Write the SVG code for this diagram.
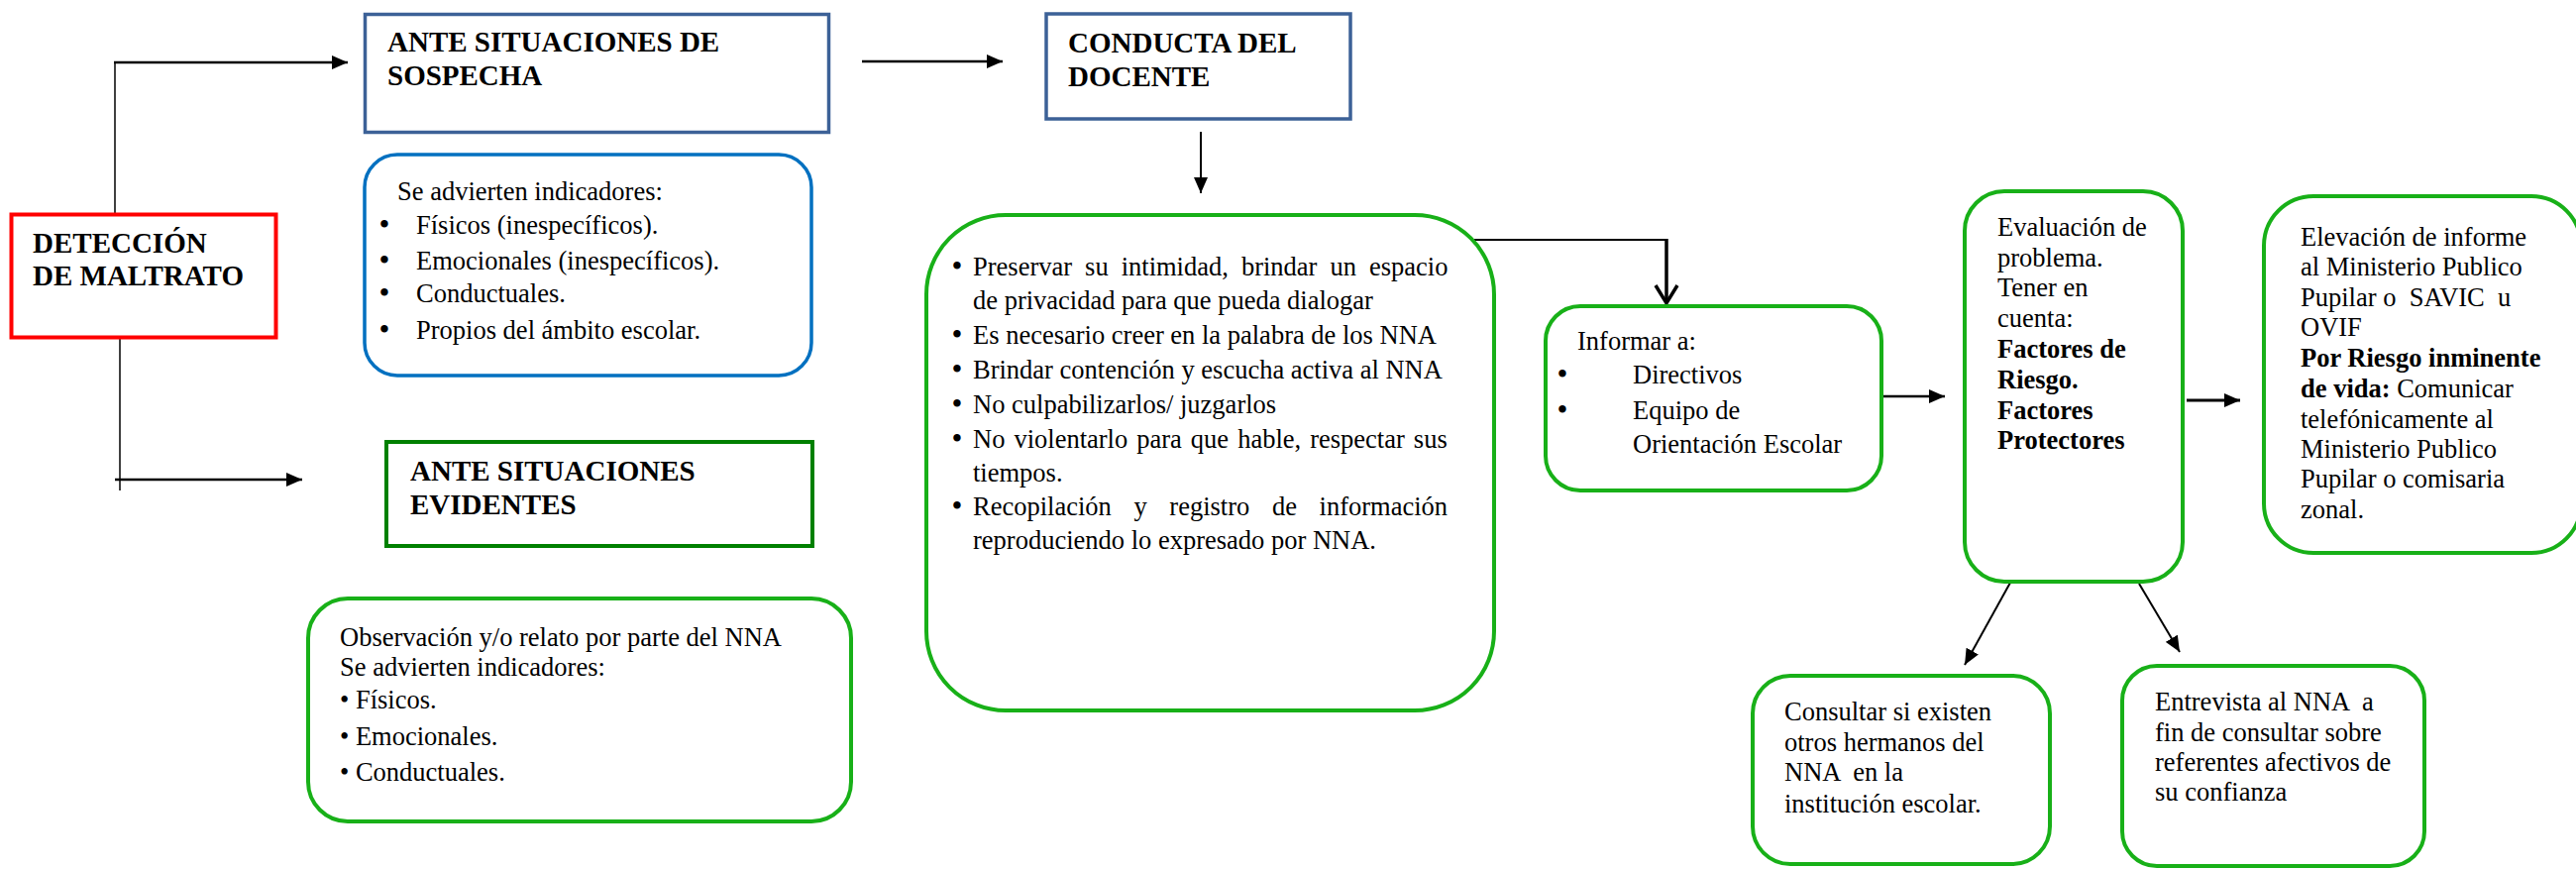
<svg xmlns="http://www.w3.org/2000/svg" width="2600" height="877" viewBox="0 0 2600 877">
<style>
text { font-family: "Liberation Serif", "Times New Roman", serif; font-size: 26.5px; fill: #000; }
.h { font-weight: bold; font-size: 29px; }
.bd { font-weight: bold; }
.bl { text-anchor: middle; font-size: 31px; }
.rb { fill: #fff; stroke: #18B018; stroke-width: 4; }
.blue { fill: #fff; stroke: #3C6197; stroke-width: 3.5; }
.ln { fill: none; stroke: #000; }
</style>
<defs>
<marker id="ah" markerUnits="userSpaceOnUse" markerWidth="16" markerHeight="14" refX="16" refY="7" orient="auto">
<path d="M0,0 L16,7 L0,14 Z" fill="#000"/>
</marker>
</defs>
<rect width="2600" height="877" fill="#fff"/>

<g id="connectors">
<line class="ln" x1="116" y1="216" x2="116" y2="63" stroke-width="1.5"/>
<line class="ln" x1="115" y1="63" x2="351" y2="63" stroke-width="2.5" marker-end="url(#ah)"/>
<line class="ln" x1="121" y1="342" x2="121" y2="495" stroke-width="1.5"/>
<line class="ln" x1="116" y1="484" x2="305" y2="484" stroke-width="2.5" marker-end="url(#ah)"/>
<line class="ln" x1="870" y1="62" x2="1012" y2="62" stroke-width="2.5" marker-end="url(#ah)"/>
<line class="ln" x1="1212" y1="133" x2="1212" y2="195" stroke-width="2" marker-end="url(#ah)"/>
<polyline class="ln" points="1488,242 1682,242" stroke-width="2"/>
<line class="ln" x1="1682" y1="241" x2="1682" y2="305" stroke-width="3.5"/>
<polyline class="ln" points="1671,288 1682,306 1693,288" stroke-width="3.5"/>
<line class="ln" x1="1898" y1="400" x2="1963" y2="400" stroke-width="2.5" marker-end="url(#ah)"/>
<line class="ln" x1="2207" y1="404" x2="2261" y2="404" stroke-width="3" marker-end="url(#ah)"/>
<line class="ln" x1="2029" y1="588" x2="1983" y2="671" stroke-width="2" marker-end="url(#ah)"/>
<line class="ln" x1="2159" y1="589" x2="2200" y2="658" stroke-width="2" marker-end="url(#ah)"/>
</g>

<g id="deteccion">
<rect x="11.5" y="216.5" width="267" height="124" fill="#fff" stroke="#FF0000" stroke-width="4"/>
<text class="h" x="33" y="255">DETECCIÓN</text>
<text class="h" x="33" y="288">DE MALTRATO</text>
</g>

<g id="sospecha">
<rect class="blue" x="368.5" y="14.5" width="468" height="119"/>
<text class="h" x="391" y="52">ANTE SITUACIONES DE</text>
<text class="h" x="391" y="86">SOSPECHA</text>
</g>

<g id="sospecha-indicadores">
<rect x="368" y="156" width="451" height="223" rx="33" fill="#fff" stroke="#0070C0" stroke-width="3.5"/>
<text x="401" y="202">Se advierten indicadores:</text>
<text class="bl" x="388" y="237">•</text><text x="420" y="236">Físicos (inespecíficos).</text>
<text class="bl" x="388" y="273">•</text><text x="420" y="272">Emocionales (inespecíficos).</text>
<text class="bl" x="388" y="306">•</text><text x="420" y="305">Conductuales.</text>
<text class="bl" x="388" y="343">•</text><text x="420" y="342">Propios del ámbito escolar.</text>
</g>

<g id="evidentes">
<rect x="390" y="446" width="430" height="105" fill="#fff" stroke="#008000" stroke-width="4"/>
<text class="h" x="414" y="485">ANTE SITUACIONES</text>
<text class="h" x="414" y="519">EVIDENTES</text>
</g>

<g id="evidentes-indicadores">
<rect class="rb" x="311" y="604" width="548" height="225" rx="40"/>
<text x="343" y="652">Observación y/o relato por parte del NNA</text>
<text x="343" y="682">Se advierten indicadores:</text>
<text x="343" y="715">• Físicos.</text>
<text x="343" y="752">• Emocionales.</text>
<text x="343" y="788">• Conductuales.</text>
</g>

<g id="conducta">
<rect class="blue" x="1056" y="14" width="307" height="106"/>
<text class="h" x="1078" y="53">CONDUCTA DEL</text>
<text class="h" x="1078" y="87">DOCENTE</text>
</g>

<g id="acciones">
<rect class="rb" x="935" y="217" width="573" height="500" rx="80"/>
<text class="bl" x="966" y="279">•</text>
<text x="982" y="278" word-spacing="6.4">Preservar su intimidad, brindar un espacio</text>
<text x="982" y="312">de privacidad para que pueda dialogar</text>
<text class="bl" x="966" y="348">•</text>
<text x="982" y="347">Es necesario creer en la palabra de los NNA</text>
<text class="bl" x="966" y="383">•</text>
<text x="982" y="382">Brindar contención y escucha activa al NNA</text>
<text class="bl" x="966" y="418">•</text>
<text x="982" y="417">No culpabilizarlos/ juzgarlos</text>
<text class="bl" x="966" y="453">•</text>
<text x="982" y="452" word-spacing="2.4">No violentarlo para que hable, respectar sus</text>
<text x="982" y="486">tiempos.</text>
<text class="bl" x="966" y="521">•</text>
<text x="982" y="520" word-spacing="16">Recopilación y registro de información</text>
<text x="982" y="554">reproduciendo lo expresado por NNA.</text>
</g>

<g id="informar">
<rect class="rb" x="1560" y="309" width="339" height="186" rx="35"/>
<text x="1592" y="353">Informar a:</text>
<text class="bl" x="1577" y="388">•</text><text x="1648" y="387">Directivos</text>
<text class="bl" x="1577" y="424">•</text><text x="1648" y="423">Equipo de</text>
<text x="1648" y="457">Orientación Escolar</text>
</g>

<g id="evaluacion">
<rect class="rb" x="1983" y="193" width="220" height="394" rx="40"/>
<text x="2016" y="238">Evaluación de</text>
<text x="2016" y="269">problema.</text>
<text x="2016" y="299">Tener en</text>
<text x="2016" y="330">cuenta:</text>
<text class="bd" x="2016" y="361">Factores de</text>
<text class="bd" x="2016" y="392">Riesgo.</text>
<text class="bd" x="2016" y="423">Factores</text>
<text class="bd" x="2016" y="453">Protectores</text>
</g>

<g id="elevacion">
<rect class="rb" x="2285" y="198" width="320" height="360" rx="50"/>
<text x="2322" y="248">Elevación de informe</text>
<text x="2322" y="278">al Ministerio Publico</text>
<text x="2322" y="309" xml:space="preserve">Pupilar o  SAVIC  u</text>
<text x="2322" y="339">OVIF</text>
<text class="bd" x="2322" y="370">Por Riesgo inminente</text>
<text x="2322" y="401"><tspan class="bd">de vida:</tspan> Comunicar</text>
<text x="2322" y="432">telefónicamente al</text>
<text x="2322" y="462">Ministerio Publico</text>
<text x="2322" y="492">Pupilar o comisaria</text>
<text x="2322" y="523">zonal.</text>
</g>

<g id="consultar">
<rect class="rb" x="1769" y="682" width="300" height="190" rx="38"/>
<text x="1801" y="727">Consultar si existen</text>
<text x="1801" y="758">otros hermanos del</text>
<text x="1801" y="788" xml:space="preserve">NNA  en la</text>
<text x="1801" y="820">institución escolar.</text>
</g>

<g id="entrevista">
<rect class="rb" x="2142" y="672" width="305" height="202" rx="35"/>
<text x="2175" y="717" xml:space="preserve">Entrevista al NNA  a</text>
<text x="2175" y="748">fin de consultar sobre</text>
<text x="2175" y="778">referentes afectivos de</text>
<text x="2175" y="808">su confianza</text>
</g>
</svg>
